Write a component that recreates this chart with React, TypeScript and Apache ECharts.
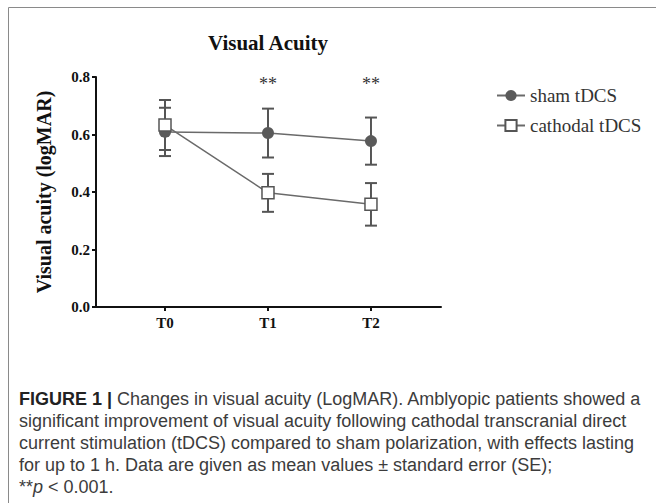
import React, { useEffect, useRef } from "react";
import * as echarts from "echarts";

const categories = ["T0", "T1", "T2"];
const positions = [0, 1, 2];
const shamMean = [0.609, 0.605, 0.577];
const shamSE = [0.084, 0.085, 0.082];
const cathMean = [0.633, 0.397, 0.357];
const cathSE = [0.087, 0.066, 0.074];
const sigLabels = ["", "**", "**"];
const sigLevel = 0.775;
const seriesNames = ["sham tDCS", "cathodal tDCS"];
const captionLines = [
  "{b|FIGURE 1 |} Changes in visual acuity (LogMAR). Amblyopic patients showed a",
  "significant improvement of visual acuity following cathodal transcranial direct",
  "current stimulation (tDCS) compared to sham polarization, with effects lasting",
  "for up to 1 h. Data are given as mean values \u00b1 standard error (SE);",
  "**{i|p} < 0.001.",
];

const SERIF = "'Liberation Serif', 'Times New Roman', serif";
const SANS = "'Liberation Sans', Arial, sans-serif";

function errorBarItem(stroke: string) {
  return (params: any, api: any) => {
    const x = api.value(0);
    const m = api.value(1);
    const se = api.value(2);
    const top = api.coord([x, m + se]);
    const bot = api.coord([x, m - se]);
    const hw = 6;
    const st = { stroke, lineWidth: 2 };
    return {
      type: "group",
      children: [
        { type: "line", shape: { x1: top[0], y1: top[1], x2: bot[0], y2: bot[1] }, style: st },
        { type: "line", shape: { x1: top[0] - hw, y1: top[1], x2: top[0] + hw, y2: top[1] }, style: st },
        { type: "line", shape: { x1: bot[0] - hw, y1: bot[1], x2: bot[0] + hw, y2: bot[1] }, style: st },
      ],
    };
  };
}

export default function App() {
  const ref = useRef<HTMLDivElement>(null);
  useEffect(() => {
    if (!ref.current) return;
    const chart = echarts.init(ref.current, undefined, { renderer: "svg" });
    const shamData = positions.map((p, i) => [p, shamMean[i]]);
    const cathData = positions.map((p, i) => [p, cathMean[i]]);
    const shamErr = positions.map((p, i) => [p, shamMean[i], shamSE[i]]);
    const cathErr = positions.map((p, i) => [p, cathMean[i], cathSE[i]]);
    const sigData = positions.map((p, i) => [p, sigLevel, i]);

    const graphics: any[] = [
      {
        type: "rect",
        shape: { x: 8.5, y: 7.5, width: 700, height: 600 },
        style: { fill: "none", stroke: "#8a8a8a", lineWidth: 1 },
        silent: true,
      },
      {
        type: "text",
        x: 268,
        y: 43,
        style: {
          text: "Visual Acuity",
          font: `bold 21px ${SERIF}`,
          fill: "#111",
          textAlign: "center",
          textVerticalAlign: "middle",
        },
      },
    ];
    captionLines.forEach((line, i) => {
      graphics.push({
        type: "text",
        x: 19,
        y: 399 + i * 22,
        style: {
          text: line,
          fontFamily: SANS,
          fontSize: 18,
          fill: "#3c3c3c",
          textVerticalAlign: "middle",
          rich: {
            b: { fontFamily: SANS, fontSize: 18, fontWeight: "bold", fill: "#222" },
            i: { fontFamily: SANS, fontSize: 18, fontStyle: "italic", fill: "#3c3c3c" },
          },
        },
      });
    });

    chart.setOption({
      animation: false,
      backgroundColor: "#fff",
      grid: { left: 96, top: 77, width: 345, height: 230 },
      xAxis: {
        type: "value",
        min: -0.67,
        max: 2.68,
        splitLine: { show: false },
        axisLine: { show: true, onZero: false, lineStyle: { color: "#111", width: 2 } },
        axisTick: { show: true, customValues: positions, length: 4, lineStyle: { color: "#111", width: 2 } },
        axisLabel: {
          customValues: positions,
          formatter: (v: number) => categories[Math.round(v)] ?? "",
          fontFamily: SERIF,
          fontWeight: "bold",
          fontSize: 15,
          color: "#111",
          margin: 8,
        },
      },
      yAxis: {
        type: "value",
        min: 0,
        max: 0.8,
        interval: 0.2,
        name: "Visual acuity (logMAR)",
        nameLocation: "middle",
        nameRotate: 90,
        nameGap: 42,
        nameTextStyle: { fontFamily: SERIF, fontWeight: "bold", fontSize: 20, color: "#111" },
        splitLine: { show: false },
        axisLine: { show: true, onZero: false, lineStyle: { color: "#111", width: 2 } },
        axisTick: { show: true, length: 4, lineStyle: { color: "#111", width: 2 } },
        axisLabel: {
          formatter: (v: number) => v.toFixed(1),
          fontFamily: SERIF,
          fontWeight: "bold",
          fontSize: 15,
          color: "#111",
          margin: 6,
        },
      },
      legend: {
        orient: "vertical",
        left: 491,
        top: 81,
        itemWidth: 28,
        itemHeight: 14,
        itemGap: 11,
        data: seriesNames,
        textStyle: { fontFamily: SERIF, fontSize: 19, color: "#333" },
      },
      graphic: graphics,
      series: [
        {
          type: "custom",
          name: "shamErr",
          data: shamErr,
          renderItem: errorBarItem("#555"),
          z: 1,
          silent: true,
        },
        {
          type: "custom",
          name: "cathErr",
          data: cathErr,
          renderItem: errorBarItem("#555"),
          z: 1,
          silent: true,
        },
        {
          type: "line",
          name: seriesNames[0],
          data: shamData,
          symbol: "circle",
          symbolSize: 12,
          itemStyle: { color: "#5a5a5a" },
          lineStyle: { color: "#6a6a6a", width: 1.5 },
          z: 3,
        },
        {
          type: "line",
          name: seriesNames[1],
          data: cathData,
          symbol: "rect",
          symbolSize: 12,
          itemStyle: { color: "#fff", borderColor: "#555", borderWidth: 1.5 },
          lineStyle: { color: "#6a6a6a", width: 1.5 },
          z: 4,
        },
        {
          type: "custom",
          name: "sig",
          data: sigData,
          silent: true,
          renderItem: (params: any, api: any) => {
            const p = api.coord([api.value(0), api.value(1)]);
            return {
              type: "text",
              x: p[0],
              y: p[1],
              style: {
                text: sigLabels[api.value(2)],
                font: `18px ${SERIF}`,
                fill: "#333",
                textAlign: "center",
                textVerticalAlign: "middle",
              },
            };
          },
        },
      ],
    });
    return () => chart.dispose();
  }, []);
  return (
    <div
      ref={ref}
      style={{ position: "absolute", left: 0, top: 0, width: 656, height: 503, background: "#fff" }}
    />
  );
}
